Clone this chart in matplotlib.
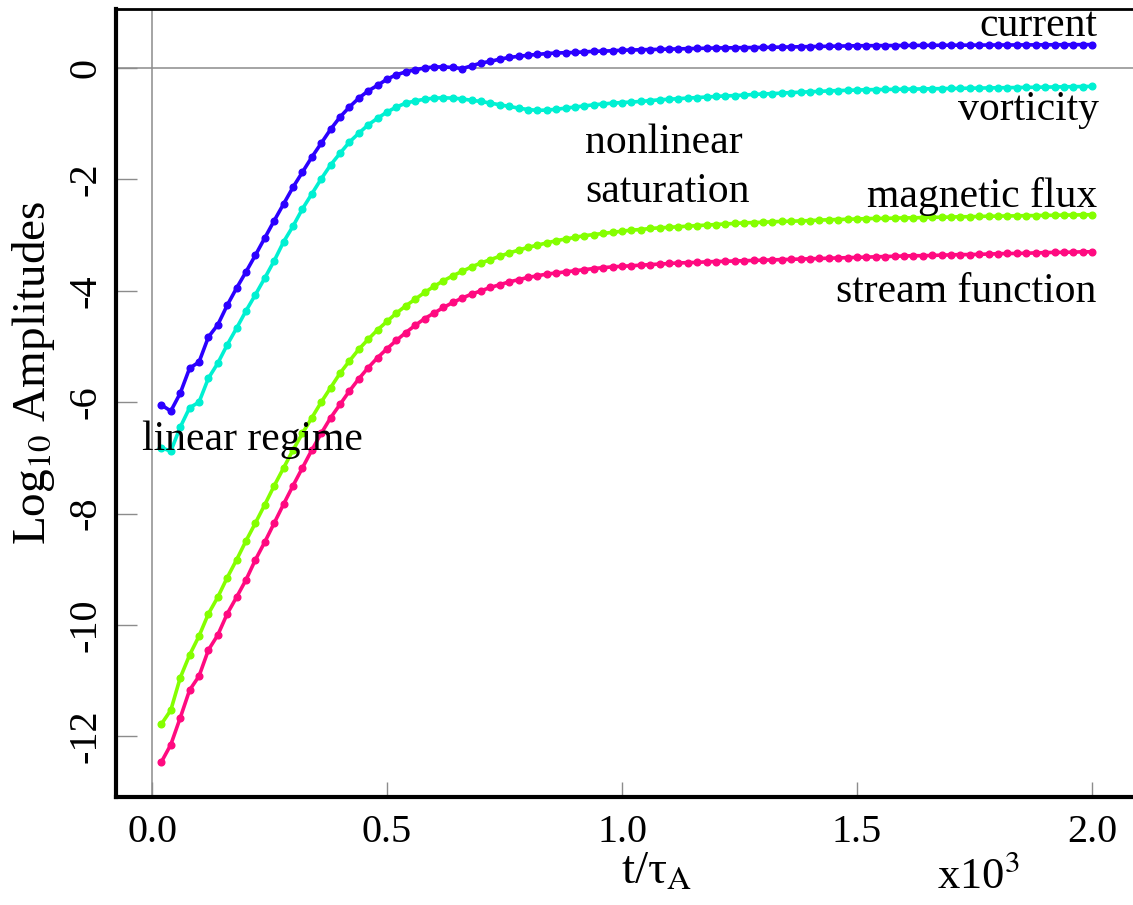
import numpy as np
import matplotlib

matplotlib.use("Agg")
import matplotlib.pyplot as plt

plt.rcParams["font.family"] = ["Liberation Serif", "DejaVu Serif"]
plt.rcParams["mathtext.fontset"] = "stix"

# time samples, t / tau_A in units of 10^3
t = np.arange(1, 101) * 0.02

current = [
    -6.05, -6.16, -5.84, -5.39, -5.28, -4.83, -4.61, -4.26, -3.95, -3.66,
    -3.36, -3.05, -2.74, -2.44, -2.14, -1.87, -1.60, -1.35, -1.10, -0.88,
    -0.70, -0.54, -0.41, -0.31, -0.20, -0.12, -0.07, -0.03, 0.00, 0.02,
    0.02, 0.01, -0.01, 0.04, 0.09, 0.12, 0.16, 0.19, 0.21, 0.23,
    0.245, 0.26, 0.27, 0.275, 0.28, 0.29, 0.30, 0.305, 0.31, 0.32,
    0.324, 0.328, 0.332, 0.336, 0.34, 0.344, 0.348, 0.352, 0.356, 0.36,
    0.362, 0.364, 0.366, 0.368, 0.37, 0.373, 0.376, 0.379, 0.382, 0.385,
    0.388, 0.391, 0.394, 0.397, 0.40, 0.401, 0.402, 0.403, 0.404, 0.405,
    0.406, 0.407, 0.408, 0.409, 0.41, 0.41, 0.411, 0.412, 0.413, 0.414,
    0.414, 0.415, 0.416, 0.416, 0.417, 0.418, 0.418, 0.419, 0.42, 0.42,
]
vorticity = [
    -6.82, -6.88, -6.45, -6.10, -6.00, -5.57, -5.30, -4.97, -4.67, -4.36,
    -4.07, -3.77, -3.46, -3.12, -2.84, -2.53, -2.26, -1.99, -1.74, -1.53,
    -1.33, -1.17, -1.02, -0.90, -0.79, -0.70, -0.63, -0.59, -0.56, -0.54,
    -0.535, -0.54, -0.555, -0.58, -0.60, -0.63, -0.66, -0.69, -0.72, -0.745,
    -0.76, -0.755, -0.74, -0.72, -0.70, -0.68, -0.66, -0.645, -0.63, -0.62,
    -0.61, -0.60, -0.585, -0.57, -0.56, -0.55, -0.54, -0.53, -0.52, -0.51,
    -0.50, -0.495, -0.485, -0.475, -0.465, -0.46, -0.45, -0.44, -0.435, -0.425,
    -0.42, -0.41, -0.405, -0.40, -0.395, -0.39, -0.387, -0.385, -0.382, -0.38,
    -0.377, -0.375, -0.372, -0.37, -0.367, -0.365, -0.362, -0.36, -0.357, -0.355,
    -0.352, -0.35, -0.347, -0.345, -0.342, -0.34, -0.337, -0.335, -0.332, -0.33,
]
magnetic_flux = [
    -11.78, -11.53, -10.95, -10.54, -10.20, -9.80, -9.50, -9.15, -8.83, -8.49,
    -8.17, -7.84, -7.50, -7.18, -6.86, -6.56, -6.28, -6.00, -5.74, -5.48,
    -5.26, -5.05, -4.87, -4.70, -4.55, -4.40, -4.27, -4.15, -4.03, -3.92,
    -3.82, -3.73, -3.65, -3.57, -3.50, -3.44, -3.38, -3.32, -3.27, -3.22,
    -3.18, -3.14, -3.10, -3.07, -3.04, -3.01, -2.99, -2.97, -2.95, -2.93,
    -2.91, -2.90, -2.88, -2.87, -2.86, -2.85, -2.84, -2.83, -2.82, -2.81,
    -2.80, -2.79, -2.78, -2.775, -2.77, -2.76, -2.755, -2.75, -2.745, -2.74,
    -2.73, -2.725, -2.72, -2.715, -2.71, -2.705, -2.70, -2.70, -2.695, -2.69,
    -2.69, -2.685, -2.68, -2.68, -2.675, -2.67, -2.67, -2.665, -2.66, -2.66,
    -2.655, -2.655, -2.65, -2.65, -2.645, -2.645, -2.64, -2.64, -2.635, -2.635,
]
stream_function = [
    -12.46, -12.15, -11.67, -11.17, -10.92, -10.45, -10.18, -9.80, -9.50, -9.19,
    -8.83, -8.51, -8.17, -7.83, -7.50, -7.18, -6.86, -6.56, -6.28, -6.04,
    -5.80, -5.58, -5.38, -5.20, -5.04, -4.89, -4.75, -4.62, -4.50, -4.40,
    -4.30, -4.21, -4.13, -4.06, -4.00, -3.94, -3.89, -3.84, -3.80, -3.76,
    -3.73, -3.70, -3.68, -3.66, -3.64, -3.62, -3.60, -3.585, -3.57, -3.56,
    -3.55, -3.54, -3.53, -3.52, -3.51, -3.50, -3.495, -3.49, -3.48, -3.475,
    -3.47, -3.465, -3.46, -3.455, -3.45, -3.445, -3.44, -3.435, -3.43, -3.425,
    -3.42, -3.415, -3.41, -3.405, -3.40, -3.395, -3.39, -3.385, -3.38, -3.375,
    -3.37, -3.37, -3.365, -3.36, -3.355, -3.35, -3.35, -3.345, -3.34, -3.335,
    -3.33, -3.33, -3.325, -3.32, -3.315, -3.31, -3.31, -3.305, -3.30, -3.30,
]

series = [
    (current, "#2b00ff"),
    (vorticity, "#00f0d2"),
    (magnetic_flux, "#84ff00"),
    (stream_function, "#ff0a80"),
]
yticks = [0, -2, -4, -6, -8, -10, -12]
xticks = [0.0, 0.5, 1.0, 1.5, 2.0]

fig = plt.figure(figsize=(11.33, 9.05), dpi=100)
ax = fig.add_axes([116 / 1133, 1 - 797 / 905, 1 - 116 / 1133, (797 - 9) / 905])

ax.axhline(0, color="#8c8c8c", lw=1.1, zorder=1)
ax.axvline(0, color="#8c8c8c", lw=1.1, zorder=1)

for vals, col in series:
    ax.plot(t, vals, "-o", color=col, lw=2.6, ms=4.8, zorder=3)

ax.set_xlim(-0.0766, 2.087)
ax.set_ylim(-13.09, 1.06)
ax.set_xticks(xticks)
ax.set_xticklabels([f"{v:.1f}" for v in xticks], fontsize=29)
ax.set_yticks(yticks)
ax.set_yticklabels([str(v) for v in yticks], fontsize=29, rotation=90, va="center")
ax.tick_params(axis="y", direction="in", length=15, width=1, color="#8c8c8c", pad=8)
ax.tick_params(axis="x", direction="in", length=11, width=1, color="#8c8c8c", pad=12)

for side in ["left", "bottom"]:
    ax.spines[side].set_linewidth(3)
ax.spines["top"].set_linewidth(2)
ax.spines["right"].set_visible(False)

ax.set_ylabel(r"Log$_{10}$ Amplitudes", fontsize=34)
ax.yaxis.set_label_coords(-0.058, 0.538)

fig.text(621 / 1133, 1 - 884 / 905, r"t/τ$_{\mathrm{A}}$", fontsize=34, ha="left", va="baseline")
fig.text(937 / 1133, 1 - 888 / 905, r"x10$^{3}$", fontsize=32, ha="left", va="baseline")

lab = dict(fontsize=30, va="baseline")
ax.text(2.011, 0.575, "current", ha="right", **lab)
ax.text(2.015, -0.93, "vorticity", ha="right", **lab)
ax.text(2.011, -2.50, "magnetic flux", ha="right", **lab)
ax.text(2.009, -4.20, "stream function", ha="right", **lab)
ax.text(0.921, -1.53, "nonlinear", ha="left", **lab)
ax.text(0.921, -2.41, "saturation", ha="left", **lab)
ax.text(-0.021, -6.86, "linear regime", ha="left", **lab)

fig.savefig("out.png", dpi=100)
